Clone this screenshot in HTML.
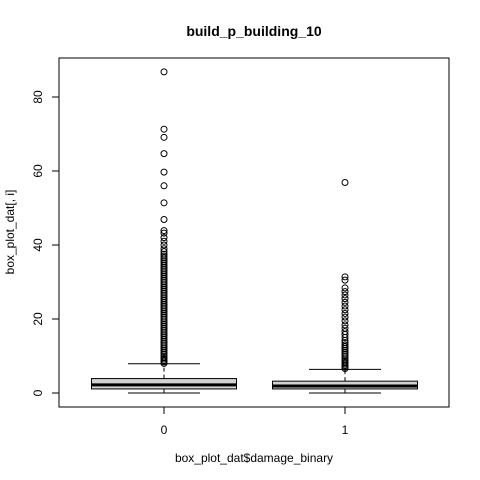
<!DOCTYPE html>
<html><head><meta charset="utf-8"><style>
body{margin:0;background:#fff}
svg{display:block;font-family:"Liberation Sans",Arial,sans-serif}
</style></head><body>
<svg id="c" width="480" height="480" viewBox="0 0 480 480">
<rect width="480" height="480" fill="#fff"/>
<text x="254" y="36" font-size="14" font-weight="bold" text-anchor="middle">build_p_building_10</text>
<rect x="59" y="58" width="390" height="349" fill="none" stroke="#000"/>
<text x="254" y="462" font-size="12" text-anchor="middle">box_plot_dat$damage_binary</text>
<text transform="translate(14,232) rotate(-90)" font-size="12" text-anchor="middle">box_plot_dat[, i]</text>
<g id="axes"></g>
<g id="marks"></g>
</svg>
<script>
const categories = ["0", "1"];
const q1s = [1.1, 1.1];
const medians = [2.2, 1.9];
const q3s = [3.9, 3.2];
const whiskLo = [0, 0];
const whiskHi = [7.9, 6.4];
const yTicks = [0, 20, 40, 60, 80];
const outliers0 = [8.0,8.4,8.8,9.2,9.6,10,10.5,11,11.5,12,12.5,13,13.5,14,14.5,15,15.5,16,16.5,17,17.5,18,18.5,19,19.5,20,20.5,21,21.5,22,22.5,23,23.5,24,24.5,25,25.5,26,26.5,27,27.5,28,28.5,29,29.5,30,30.5,31,31.5,32,32.5,33,33.5,34,34.5,35,35.5,36,36.5,37,37.5,38.2,39,40,41,42,43.2,43.9,46.9,51.4,56,59.7,64.7,69.1,71.3,86.8];
const outliers1 = [6.6,7,7.4,7.8,8.2,8.6,9,9.5,10,10.5,11,11.5,12,12.5,13,13.6,14.2,15,15.8,16.6,17.5,18.4,19.5,20.5,21.5,22.5,23.5,24.5,25.5,26.5,27.4,28.4,30.5,31.4,56.9];
const allOut = [outliers0, outliers1];
const NS = "http://www.w3.org/2000/svg";
const y = v => 393 - v * 3.7;
const x = i => 164 + i * 181;
const halfW = 72.5, capW = 36;
function mk(tag, attrs, parent) {
  const e = document.createElementNS(NS, tag);
  for (const k in attrs) e.setAttribute(k, attrs[k]);
  parent.appendChild(e);
  return e;
}
const ax = document.getElementById("axes");
const mg = document.getElementById("marks");
yTicks.forEach(t => {
  const l = mk("line", {x1: 52, x2: 59, y1: y(t), y2: y(t), stroke: "#000"}, ax);
  
  
  const tx = mk("text", {transform: `translate(42,${y(t)}) rotate(-90)`, "font-size": 12, "text-anchor": "middle"}, ax);
  tx.textContent = t;
  
  
});
categories.forEach((c, i) => {
  const l = mk("line", {x1: x(i), x2: x(i), y1: 407, y2: 414, stroke: "#000"}, ax);
  
  
  const tx = mk("text", {x: x(i), y: 434, "font-size": 12, "text-anchor": "middle"}, ax);
  tx.textContent = c;
  
  
});
categories.forEach((c, i) => {
  const g = mk("g", {}, mg);
  
  
  mk("line", {x1: x(i), x2: x(i), y1: y(q3s[i]), y2: y(whiskHi[i]), stroke: "#000", "stroke-dasharray": "4,3"}, g);
  mk("line", {x1: x(i), x2: x(i), y1: y(q1s[i]), y2: y(whiskLo[i]), stroke: "#000", "stroke-dasharray": "4,3"}, g);
  mk("line", {x1: x(i)-capW, x2: x(i)+capW, y1: y(whiskHi[i]), y2: y(whiskHi[i]), stroke: "#000"}, g);
  mk("line", {x1: x(i)-capW, x2: x(i)+capW, y1: y(whiskLo[i]), y2: y(whiskLo[i]), stroke: "#000"}, g);
  const b = mk("rect", {x: x(i)-halfW, y: y(q3s[i]), width: 2*halfW, height: y(q1s[i]) - y(q3s[i]), fill: "#d3d3d3", stroke: "#000"}, g);
  
  
  mk("line", {x1: x(i)-halfW, x2: x(i)+halfW, y1: y(medians[i]), y2: y(medians[i]), stroke: "#000", "stroke-width": 3}, g);
  allOut[i].forEach(v => {
    const p = mk("circle", {cx: x(i), cy: y(v), r: 3, fill: "none", stroke: "#000", "stroke-width": 1}, g);
    
    
  });
});
</script>
</body></html>
